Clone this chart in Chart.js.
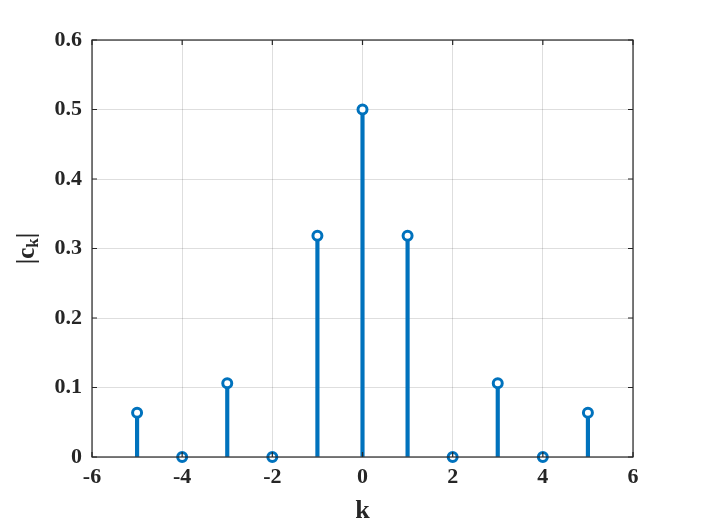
<!DOCTYPE html>
<html><head><meta charset="utf-8">
<script src="https://cdn.jsdelivr.net/npm/chart.js@4"></script>
<style>html,body{margin:0;padding:0;background:#fff}#wrap{width:701px;height:525px}</style>
</head><body><div id="wrap"><canvas id="c" width="701" height="525"></canvas></div>
<script>
const kValues = [-5, -4, -3, -2, -1, 0, 1, 2, 3, 4, 5];
const ckValues = [0.0637, 0, 0.1061, 0, 0.3183, 0.5, 0.3183, 0, 0.1061, 0, 0.0637];
const xTitle = 'k';
const yTitleMain = '|c';
const yTitleSub = 'k';
const yTitleEnd = '|';

const pts = kValues.map((k, i) => ({x: k, y: ckValues[i]}));
const FONT = '"Liberation Serif", "Times New Roman", serif';
const BLUE = '#0072BD';

const framePlugin = {
  id: 'frame',
  afterDraw(chart) {
    const ctx = chart.ctx, a = chart.chartArea;
    const xs = chart.scales.x, ys = chart.scales.y;
    ctx.save();
    ctx.strokeStyle = '#262626';
    ctx.lineWidth = 1.2;
    ctx.strokeRect(a.left, a.top, a.right - a.left, a.bottom - a.top);
    const L = 5;
    ctx.beginPath();
    xs.ticks.forEach(t => {
      const px = xs.getPixelForValue(t.value);
      ctx.moveTo(px, a.bottom); ctx.lineTo(px, a.bottom - L);
      ctx.moveTo(px, a.top); ctx.lineTo(px, a.top + L);
    });
    ys.ticks.forEach(t => {
      const py = ys.getPixelForValue(t.value);
      ctx.moveTo(a.left, py); ctx.lineTo(a.left + L, py);
      ctx.moveTo(a.right, py); ctx.lineTo(a.right - L, py);
    });
    ctx.stroke();
    // axis titles
    ctx.fillStyle = '#262626';
    ctx.font = 'bold 26px ' + FONT;
    ctx.textAlign = 'center'; ctx.textBaseline = 'alphabetic';
    ctx.fillText(xTitle, (a.left + a.right) / 2, 518);
    ctx.translate(26, (a.top + a.bottom) / 2);
    ctx.rotate(-Math.PI / 2);
    ctx.textAlign = 'left'; ctx.textBaseline = 'alphabetic';
    ctx.font = 'bold 25px ' + FONT;
    const w1 = ctx.measureText(yTitleMain).width;
    ctx.font = 'bold 17px ' + FONT;
    const w2 = ctx.measureText(yTitleSub).width;
    ctx.font = 'bold 25px ' + FONT;
    const w3 = ctx.measureText(yTitleEnd).width;
    let x0 = -(w1 + w2 + w3) / 2;
    const base = 8;
    ctx.fillText(yTitleMain, x0, base);
    ctx.font = 'bold 17px ' + FONT;
    ctx.fillText(yTitleSub, x0 + w1, base + 4);
    ctx.font = 'bold 25px ' + FONT;
    ctx.fillText(yTitleEnd, x0 + w1 + w2, base);
    ctx.restore();
  }
};

new Chart(document.getElementById('c'), {
  type: 'bar',
  data: {
    datasets: [
      {
        type: 'scatter',
        data: pts,
        pointRadius: 4.5,
        pointBorderWidth: 3,
        pointBackgroundColor: '#ffffff',
        pointBorderColor: BLUE,
        clip: false,
        order: 0
      },
      {
        type: 'bar',
        data: pts,
        backgroundColor: BLUE,
        barThickness: 3.5,
        order: 1
      }
    ]
  },
  options: {
    responsive: false,
    animation: false,
    layout: {padding: {left: 0, right: 68, top: 40, bottom: 0}},
    plugins: {legend: {display: false}, tooltip: {enabled: false}},
    scales: {
      x: {
        type: 'linear', min: -6, max: 6, offset: false,
        afterFit(s) { s.height = 68; },
        ticks: {stepSize: 2, color: '#262626', padding: 7, maxRotation: 0,
          font: {family: FONT, size: 22, weight: 'bold'}},
        grid: {color: 'rgba(0,0,0,0.13)', drawTicks: false, offset: false},
        border: {display: false}
      },
      y: {
        min: 0, max: 0.6,
        afterFit(s) { s.width = 92; },
        ticks: {stepSize: 0.1, color: '#262626', padding: 10,
          font: {family: FONT, size: 22, weight: 'bold'},
          callback: v => (Math.round(v * 10) / 10).toString()},
        grid: {color: 'rgba(0,0,0,0.13)', drawTicks: false},
        border: {display: false}
      }
    }
  },
  plugins: [framePlugin]
});
</script></body></html>
